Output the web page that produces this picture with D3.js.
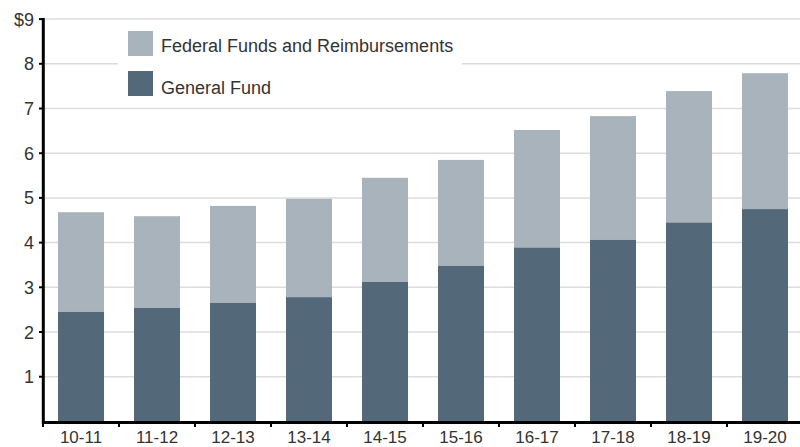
<!DOCTYPE html>
<html>
<head>
<meta charset="utf-8">
<script src="https://cdn.jsdelivr.net/npm/d3@7"></script>
<style>
  html, body { margin: 0; padding: 0; background: #fff; }
  svg { display: block; font-family: "Liberation Sans", Arial, Helvetica, sans-serif; }
</style>
</head>
<body>
<svg id="chart" width="800" height="447"></svg>
<script>
const categories = ["10-11","11-12","12-13","13-14","14-15","15-16","16-17","17-18","18-19","19-20"];
const generalFund = [2.45, 2.54, 2.65, 2.78, 3.12, 3.48, 3.89, 4.06, 4.45, 4.75];
const federalTotal = [4.68, 4.59, 4.82, 4.98, 5.45, 5.85, 6.52, 6.83, 7.39, 7.79];
const yTicks = [1,2,3,4,5,6,7,8,9];
const seriesNames = ["Federal Funds and Reimbursements", "General Fund"];
const colors = { federal: "#a9b3bc", general: "#536879" };

const svg = d3.select("#chart");
const x = d3.scaleBand().domain(categories).range([43, 803]).paddingInner(0.395).paddingOuter(0.1975);
const y = d3.scaleLinear().domain([0, 9]).range([421.4, 19.1]);

// gridlines
svg.append("g").selectAll("line").data(yTicks).join("line")
  .attr("x1", 43).attr("x2", 800)
  .attr("y1", d => y(d)).attr("y2", d => y(d))
  .attr("stroke", "#dcdcdc").attr("stroke-width", 1.5);

// legend background
svg.append("rect").attr("x", 118).attr("y", 22).attr("width", 344).attr("height", 82).attr("fill", "#fff");

// bars
const stacks = categories.map((c, i) => ({ c, g: generalFund[i], t: federalTotal[i] }));
svg.append("g").selectAll("rect").data(stacks).join("rect")
  .attr("x", d => x(d.c)).attr("width", x.bandwidth())
  .attr("y", d => y(d.t)).attr("height", d => y(d.g) - y(d.t))
  .attr("fill", colors.federal);
svg.append("g").selectAll("rect").data(stacks).join("rect")
  .attr("x", d => x(d.c)).attr("width", x.bandwidth())
  .attr("y", d => y(d.g)).attr("height", d => y(0) - y(d.g))
  .attr("fill", colors.general);

// y axis
const yAxis = svg.append("g");
yAxis.append("line").attr("x1", 43.3).attr("x2", 43.3).attr("y1", 18).attr("y2", 424)
  .attr("stroke", "#000").attr("stroke-width", 3);
yAxis.selectAll(".tk").data(yTicks).join("line").attr("class", "tk")
  .attr("x1", 39).attr("x2", 43).attr("y1", d => y(d)).attr("y2", d => y(d))
  .attr("stroke", "#000").attr("stroke-width", 2);
yAxis.selectAll("text").data(yTicks).join("text")
  .attr("x", 34).attr("y", d => y(d) + 6.5)
  .attr("text-anchor", "end").attr("font-size", 18).attr("fill", "#333")
  .text(d => d === 9 ? "$9" : d);

// x axis
const xAxis = svg.append("g");
xAxis.append("line").attr("x1", 42).attr("x2", 800).attr("y1", 422.6).attr("y2", 422.6)
  .attr("stroke", "#000").attr("stroke-width", 3);
xAxis.selectAll(".tk").data(categories).join("line").attr("class", "tk")
  .attr("x1", c => x(c) - x.step() * 0.1975).attr("x2", c => x(c) - x.step() * 0.1975)
  .attr("y1", 422).attr("y2", 427)
  .attr("stroke", "#000").attr("stroke-width", 2);
xAxis.selectAll("text").data(categories).join("text")
  .attr("x", c => x(c) + x.bandwidth() / 2).attr("y", 443)
  .attr("text-anchor", "middle").attr("font-size", 17).attr("fill", "#333")
  .text(c => c);

// legend
const legend = svg.append("g");
const legColors = [colors.federal, colors.general];
seriesNames.forEach((name, i) => {
  legend.append("rect").attr("x", 128).attr("y", 31 + i * 40).attr("width", 25).attr("height", 25)
    .attr("fill", legColors[i]);
  legend.append("text").attr("x", 161).attr("y", 52.3 + i * 41.7)
    .attr("font-size", 18).attr("fill", "#333").text(name);
});
</script>
</body>
</html>
